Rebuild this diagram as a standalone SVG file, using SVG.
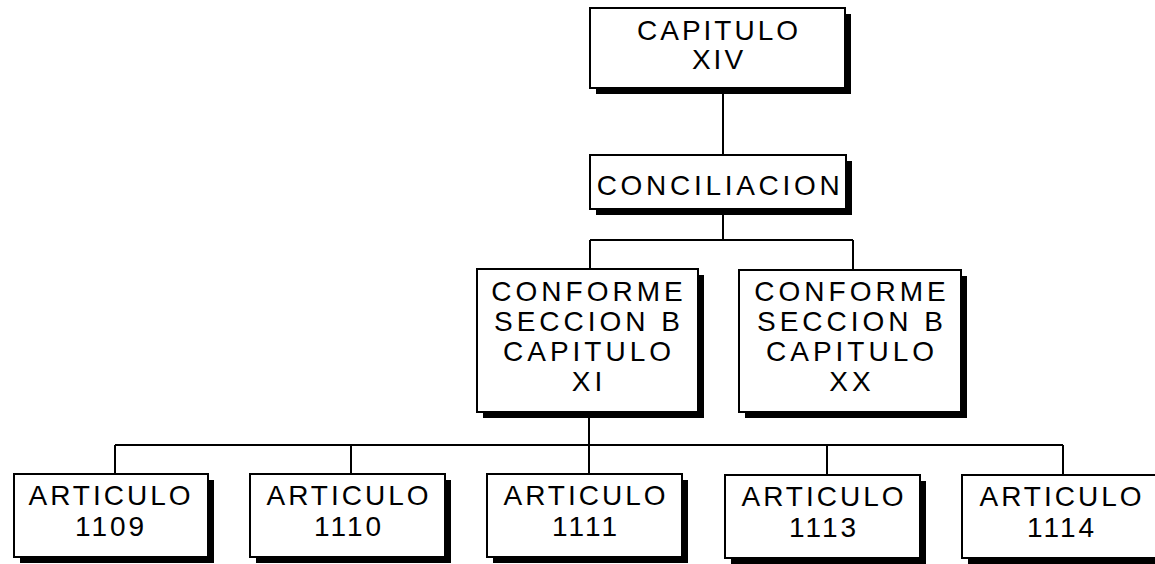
<svg xmlns="http://www.w3.org/2000/svg" width="1155" height="564" viewBox="0 0 1155 564">
<style>
.box{fill:#fff;stroke:#000;stroke-width:2}
.sh{fill:#000}
.t{font-family:"Liberation Sans",Arial,sans-serif;font-size:28px;fill:#000;text-anchor:middle;letter-spacing:3px}
.c{fill:none;stroke:#000;stroke-width:2}
</style>
<rect width="1155" height="564" fill="#fff"/>
<g id="connectors">
<path class="c" d="M723 88V155M723 209V240M590 240H853M590 240V269M853 240V270M589 412V474M115 445H1063M115 445V474M351 445V474M827 445V474M1063 445V474"/>
</g>
<g id="n1">
<rect class="sh" x="596" y="14" width="255" height="80"/>
<rect class="box" x="590" y="8" width="255" height="80"/>
<text class="t" x="719" y="40">CAPITULO</text>
<text class="t" x="719" y="69">XIV</text>
</g>
<g id="n2">
<rect class="sh" x="596" y="161" width="256" height="54"/>
<rect class="box" x="590" y="155" width="256" height="54"/>
<text class="t" x="720" y="195" style="letter-spacing:3.7px">CONCILIACION</text>
</g>
<g id="n3">
<rect class="sh" x="483" y="275" width="221" height="143"/>
<rect class="box" x="477" y="269" width="221" height="143"/>
<text class="t" x="589" y="301" style="letter-spacing:4px">CONFORME</text>
<text class="t" x="589" y="331" style="letter-spacing:4px">SECCION B</text>
<text class="t" x="589" y="361" style="letter-spacing:4px">CAPITULO</text>
<text class="t" x="589" y="391" style="letter-spacing:4px">XI</text>
</g>
<g id="n4">
<rect class="sh" x="745" y="276" width="222" height="142"/>
<rect class="box" x="739" y="270" width="222" height="142"/>
<text class="t" x="852" y="301" style="letter-spacing:4px">CONFORME</text>
<text class="t" x="852" y="331" style="letter-spacing:4px">SECCION B</text>
<text class="t" x="852" y="361" style="letter-spacing:4px">CAPITULO</text>
<text class="t" x="852" y="391" style="letter-spacing:4px">XX</text>
</g>
<g id="n5">
<rect class="sh" x="20" y="480" width="194" height="83"/>
<rect class="box" x="14" y="474" width="194" height="83"/>
<text class="t" x="111" y="505">ARTICULO</text>
<text class="t" x="111" y="536">1109</text>
</g>
<g id="n6">
<rect class="sh" x="256" y="480" width="195" height="83"/>
<rect class="box" x="250" y="474" width="195" height="83"/>
<text class="t" x="349" y="505">ARTICULO</text>
<text class="t" x="349" y="536">1110</text>
</g>
<g id="n7">
<rect class="sh" x="493" y="480" width="195" height="83"/>
<rect class="box" x="487" y="474" width="195" height="83"/>
<text class="t" x="586" y="505">ARTICULO</text>
<text class="t" x="586" y="536">1111</text>
</g>
<g id="n8">
<rect class="sh" x="731" y="481" width="195" height="83"/>
<rect class="box" x="725" y="475" width="195" height="83"/>
<text class="t" x="824" y="506">ARTICULO</text>
<text class="t" x="824" y="537">1113</text>
</g>
<g id="n9">
<rect class="sh" x="968" y="481" width="195" height="83"/>
<rect class="box" x="962" y="475" width="195" height="83"/>
<text class="t" x="1062" y="506">ARTICULO</text>
<text class="t" x="1062" y="537">1114</text>
</g>
</svg>
